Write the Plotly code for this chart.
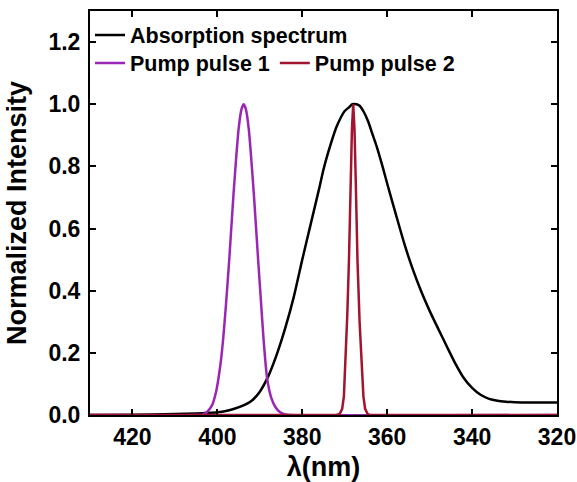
import plotly.graph_objects as go

# Absorption spectrum (wavelength nm, normalized intensity)
abs_wl = [430, 420, 410, 405, 402, 400, 398, 396, 394, 392, 390, 388, 386, 384, 382,
          380, 378, 376, 375, 374, 372, 371, 370, 369, 368.2, 367.2, 366.5, 365.5, 364.5,
          363.5, 362.5, 361, 360, 358, 356, 354, 352, 350, 348, 346, 344, 342, 340,
          338, 336, 334, 332, 330, 325, 320]
abs_val = [0.0, 0.001, 0.003, 0.005, 0.007, 0.009, 0.013, 0.02, 0.03, 0.045, 0.075, 0.125,
           0.195, 0.28, 0.38, 0.50, 0.615, 0.73, 0.79, 0.84, 0.925, 0.955, 0.978, 0.99,
           1.0, 1.0, 0.995, 0.975, 0.945, 0.905, 0.865, 0.795, 0.745, 0.648, 0.553, 0.47,
           0.398, 0.335, 0.278, 0.222, 0.167, 0.12, 0.087, 0.065, 0.052, 0.046, 0.043,
           0.041, 0.040, 0.040]

# Pump pulse 1
p1_wl = [430, 405, 403.3, 402.3, 401.3, 400.3, 399.3, 398.6, 398.0, 397.2, 396.2, 395.0,
         394.3, 393.8, 393.3, 392.6, 391.4, 390.4, 389.9, 389.1, 388.3, 387.3, 386.3,
         385.3, 384.0, 383.0, 320]
p1_val = [0.0, 0.0, 0.002, 0.012, 0.03, 0.075, 0.16, 0.25, 0.35, 0.50, 0.71, 0.92,
          0.985, 1.0, 0.985, 0.92, 0.71, 0.50, 0.40, 0.24, 0.12, 0.055, 0.025,
          0.01, 0.002, 0.0, 0.0]

# Pump pulse 2
p2_wl = [430, 372.0, 371.2, 370.6, 370.2, 369.8, 369.4, 369.0, 368.6, 368.3, 368.0,
         367.7, 367.4, 367.0, 366.5, 366.1, 365.6, 365.2, 364.6, 364.0, 320]
p2_val = [0.0, 0.0, 0.003, 0.02, 0.06, 0.17, 0.32, 0.50, 0.75, 0.92, 1.0,
          0.92, 0.75, 0.50, 0.30, 0.17, 0.06, 0.02, 0.003, 0.0, 0.0]

x_ticks = [420, 400, 380, 360, 340, 320]
y_ticks = [0.0, 0.2, 0.4, 0.6, 0.8, 1.0, 1.2]

FONT = "Liberation Sans, Arial, sans-serif"

fig = go.Figure()
fig.add_trace(go.Scatter(x=abs_wl, y=abs_val, mode="lines", name="Absorption spectrum",
                         line=dict(color="#000000", width=2.5, shape="spline", smoothing=0.7),
                         legend="legend"))
fig.add_trace(go.Scatter(x=p1_wl, y=p1_val, mode="lines", name="Pump pulse 1",
                         line=dict(color="#9B26B6", width=2.5, shape="spline", smoothing=0.5),
                         legend="legend2"))
fig.add_trace(go.Scatter(x=p2_wl, y=p2_val, mode="lines", name="Pump pulse 2",
                         line=dict(color="#A2142F", width=2.5), legend="legend2"))

axis_common = dict(
    showline=True, linecolor="black", linewidth=2, mirror="ticks",
    ticks="inside", ticklen=6, tickwidth=1.5, tickcolor="black",
    showgrid=False, zeroline=False, automargin=False,
    tickfont=dict(family=FONT, size=23, color="black", weight="bold"),
)

fig.update_xaxes(range=[430, 320], tickvals=x_ticks,
                 ticktext=[str(v) for v in x_ticks],
                 title=dict(text="λ(nm)", font=dict(family=FONT, size=27, color="black", weight="bold"),
                            standoff=11),
                 **axis_common)
fig.update_yaxes(range=[0, 1.3], tickvals=y_ticks,
                 ticktext=[f"{v:.1f}" for v in y_ticks],
                 ticklabelstandoff=3,
                 title=dict(text="Normalized Intensity", font=dict(family=FONT, size=27, color="black", weight="bold"),
                            standoff=14),
                 **axis_common)

legend_font = dict(family=FONT, size=21.5, color="black", weight="bold")
fig.update_layout(
    width=577, height=482,
    margin=dict(l=90, r=20, t=11, b=67),
    paper_bgcolor="white", plot_bgcolor="white",
    showlegend=True,
    legend=dict(x=0, y=0.9406, xanchor="left", yanchor="middle",
                bgcolor="rgba(0,0,0,0)", font=legend_font, orientation="v"),
    legend2=dict(x=0, y=0.8713, xanchor="left", yanchor="middle",
                 bgcolor="rgba(0,0,0,0)", font=legend_font, orientation="h"),
)

fig.write_html("out.html", config={"displayModeBar": False},
               post_script="document.body.style.margin='0';document.body.style.overflow='hidden';")
